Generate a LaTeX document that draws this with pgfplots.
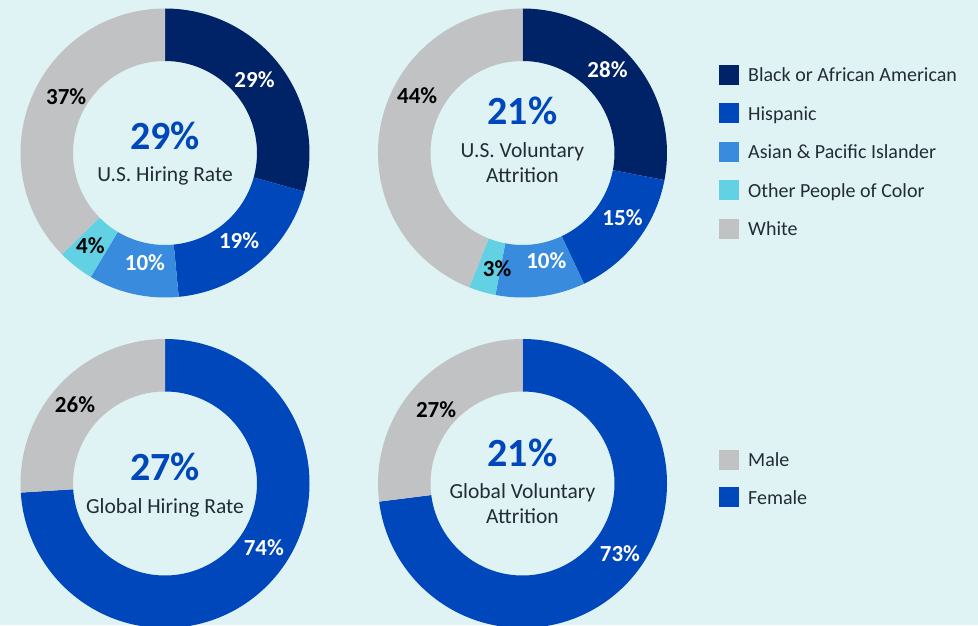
\documentclass[border=0pt]{standalone}
\usepackage{pgfplots}
\pgfplotsset{compat=1.18}
\usepackage{pgfplotstable}
\usepackage{fontspec}
\setmainfont{Carlito}
\usetikzlibrary{calc}

\definecolor{bgc}{HTML}{DFF3F4}
\definecolor{cNavy}{HTML}{002266}
\definecolor{cHisp}{HTML}{0047BB}
\definecolor{cAsian}{HTML}{398CDD}
\definecolor{cOther}{HTML}{62D1E3}
\definecolor{cGray}{HTML}{C1C2C4}
\definecolor{txt}{HTML}{222C36}

% v = share, col = wedge colour, lc = label colour, la/lr = label angle/radius
\pgfplotstableread{
v  col    lc    la     lr
29 cNavy  white 39.5   116
19 cHisp  white -49.9  115
10 cAsian white -100.4 111
4  cOther black -128.8 119
37 cGray  black 150.1  114
}\usHire

\pgfplotstableread{
v  col    lc    la     lr
28 cNavy  white 44.4   119
15 cHisp  white -32.8  119
10 cAsian white -77.5  110
3  cOther black -102.4 118
44 cGray  black 151.4  120
}\usAttr

\pgfplotstableread{
v  col    lc    la     lr
74 cHisp  white -32.9  117.7
26 cGray  black 138.9  119.4
}\glHire

\pgfplotstableread{
v  col    lc    la     lr
73 cHisp  white -35.9  120.3
27 cGray  black 139.6  113.5
}\glAttr

\def\Ro{144.5pt}
\def\Ri{92pt}

% #1 table, #2 #3 centre in axis units
\newcommand{\donut}[3]{%
  \begingroup
  \pgfkeys{/pgf/fpu=false}%
  \pgfplotstablegetrowsof{#1}%
  \pgfmathtruncatemacro{\nrows}{\pgfplotsretval-1}%
  \def\tot{0}%
  \pgfplotsforeachungrouped \i in {0,...,\nrows}{%
    \pgfplotstablegetelem{\i}{v}\of{#1}%
    \pgfmathsetmacro{\tot}{\tot+\pgfplotsretval}%
  }%
  \def\cum{0}%
  \pgfplotsforeachungrouped \i in {0,...,\nrows}{%
    \pgfplotstablegetelem{\i}{v}\of{#1}\let\val\pgfplotsretval
    \pgfplotstablegetelem{\i}{col}\of{#1}\let\col\pgfplotsretval
    \pgfplotstablegetelem{\i}{lc}\of{#1}\let\lc\pgfplotsretval
    \pgfplotstablegetelem{\i}{la}\of{#1}\let\la\pgfplotsretval
    \pgfplotstablegetelem{\i}{lr}\of{#1}\let\lr\pgfplotsretval
    \pgfmathsetmacro{\aa}{90-(\cum/\tot)*360}%
    \pgfmathsetmacro{\cum}{\cum+\val}%
    \pgfmathsetmacro{\ab}{90-(\cum/\tot)*360}%
    \fill[\col] ($(axis cs:#2,#3)+(\aa:\Ro)$) arc[start angle=\aa, end angle=\ab, radius=\Ro]
      -- ($(axis cs:#2,#3)+(\ab:\Ri)$) arc[start angle=\ab, end angle=\aa, radius=\Ri] -- cycle;
    \node[text=\lc, font=\fontsize{23}{23}\selectfont\bfseries, inner sep=0pt, text depth=0pt]
      at ($(axis cs:#2,#3)+(\la:\lr pt)$) {\val\%};
  }%
  \endgroup
}

\begin{document}
\begin{tikzpicture}
\begin{axis}[
    x=1pt, y=1pt,
    xmin=0, xmax=978, ymin=0, ymax=625,
    hide axis,
    clip=true,
  ]
  \pgfplotsextra{%
    \fill[bgc] (axis cs:0,0) rectangle (axis cs:978,625);
    \donut{\usHire}{165}{472}
    \donut{\usAttr}{522.5}{472}
    \donut{\glHire}{165}{141.5}
    \donut{\glAttr}{522.5}{141.5}
  }
  \coordinate (SW) at (axis cs:0,0);
  \coordinate (NE) at (axis cs:978,625);

  % centre texts
  \tikzset{big/.style={text=cHisp, font=\fontsize{40}{40}\selectfont\bfseries, inner sep=0pt, anchor=base},
           sub/.style={text=txt, font=\fontsize{21.5}{21.5}\selectfont, inner sep=0pt, anchor=base}}
  \node[big] at (axis cs:165,475) {29\%};
  \node[sub] at (axis cs:165,443.4) {U.S. Hiring Rate};
  \node[big] at (axis cs:522.5,500) {21\%};
  \node[sub] at (axis cs:522.5,467) {U.S. Voluntary};
  \node[sub] at (axis cs:522.5,442) {Attrition};
  \node[big] at (axis cs:165,145) {27\%};
  \node[sub] at (axis cs:165,112) {Global Hiring Rate};
  \node[big] at (axis cs:522.5,158.3) {21\%};
  \node[sub] at (axis cs:522.5,127) {Global Voluntary};
  \node[sub] at (axis cs:522.5,102) {Attrition};

  % legends
  \tikzset{leg/.style={text=txt, font=\fontsize{20}{20}\selectfont, inner sep=0pt, anchor=base west}}
  \fill[cNavy]  (axis cs:719,560)   rectangle (axis cs:739,540);
  \node[leg] at (axis cs:748,543.3) {Black or African American};
  \fill[cHisp]  (axis cs:719,521.5) rectangle (axis cs:739,501.5);
  \node[leg] at (axis cs:748,504.8) {Hispanic};
  \fill[cAsian] (axis cs:719,483)   rectangle (axis cs:739,463);
  \node[leg] at (axis cs:748,466.3) {Asian \& Pacific Islander};
  \fill[cOther] (axis cs:719,444.5) rectangle (axis cs:739,424.5);
  \node[leg] at (axis cs:748,427.8) {Other People of Color};
  \fill[cGray]  (axis cs:719,406)   rectangle (axis cs:739,386);
  \node[leg] at (axis cs:748,389.3) {White};

  \fill[cGray]  (axis cs:719,175) rectangle (axis cs:739,155);
  \node[leg] at (axis cs:748,158.3) {Male};
  \fill[cHisp]  (axis cs:719,138) rectangle (axis cs:739,118);
  \node[leg] at (axis cs:748,121) {Female};
\end{axis}
\pgfresetboundingbox
\path[use as bounding box] (SW) rectangle (NE);
\end{tikzpicture}
\end{document}
